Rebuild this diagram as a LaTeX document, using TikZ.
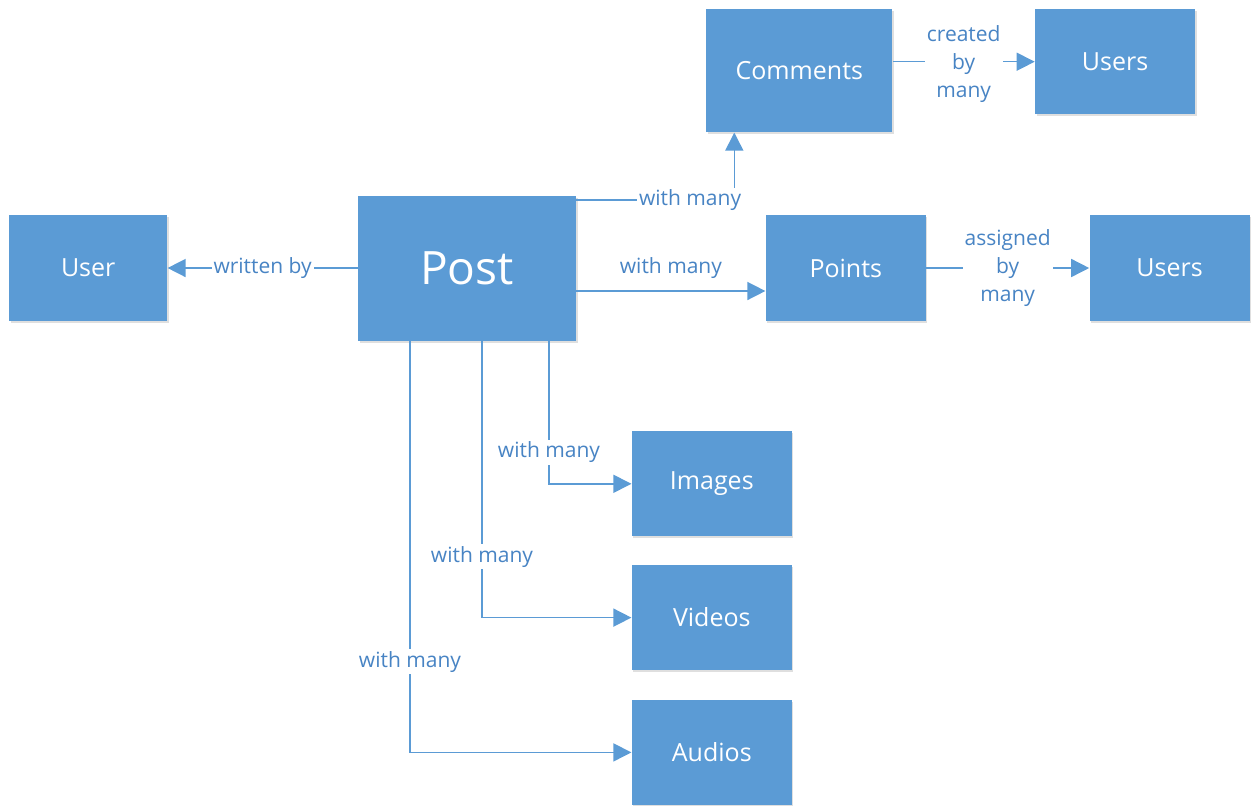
\documentclass[tikz,border=0pt]{standalone}
\usepackage{fontspec}
\setmainfont{Open Sans}
\usetikzlibrary{
  arrows.meta,
  positioning,
  shadows
}
\definecolor{boxBlue}{RGB}{91,155,213}
\definecolor{labelBlue}{RGB}{72,132,196}
\tikzset{
  entity/.style={
    rectangle,
    fill=boxBlue,
    text=white,
    inner sep = 0pt,
    minimum width = 80pt,
    minimum height = 53pt,
    font=\fontsize{12.5}{15}\selectfont,
    drop shadow={shadow xshift=0.8pt, shadow yshift=-1pt, opacity=0.25}
  },
  link/.style={->, draw=boxBlue, line width=0.75pt},
  rel/.style={
    fill=white,
    text=labelBlue,
    inner sep = 1pt,
    align=center,
    font=\fontsize{10.5}{14}\selectfont
  }
}

\begin{document}
\begin{tikzpicture}[>={Triangle[length=9pt,width=9pt]}]
    \useasboundingbox (0,0) rectangle (627pt,-402.5pt);

    \node[entity, minimum width=109pt, minimum height=72.5pt,
          font=\fontsize{23}{27}\selectfont] (post) at (233.5pt,-134pt) {Post};
    \node[entity, minimum width=79pt, left=95pt of post] (user) {User};
    \node[entity, right=94.5pt of post] (points) {Points};
    \node[entity, right=81.5pt of points] (pointUsers) {Users};
    \node[entity, minimum width=93pt, minimum height=61.5pt,
          above=41pt of points, xshift=-23.25pt] (comments) {Comments};
    \node[entity, minimum height=52.5pt, right=71pt of comments,
          yshift=4.5pt] (commentUsers) {Users};
    \node[entity, minimum height=52.5pt,
          below right=45pt and 27.5pt of post.south east] (images) {Images};
    \node[entity, minimum height=52.5pt, below=14pt of images] (videos) {Videos};
    \node[entity, minimum height=52.5pt, below=14.5pt of videos] (audios) {Audios};

    \draw[link] (post) -- node[rel] {written by} (user);
    \draw[link] ([yshift=34pt]post.east) -| node[rel, pos=0.36] {with many}
        ([xshift=-32.5pt]comments.south);
    \draw[link] ([yshift=-11.5pt]post.east) -- node[rel, midway, yshift=11.5pt] {with many}
        ([yshift=-11.5pt]points.west);
    \draw[link] (comments.east |- commentUsers) -- node[rel, yshift=-1pt] {created\\by\\many} (commentUsers);
    \draw[link] (points) -- node[rel] {assigned\\by\\many} (pointUsers);
    \draw[link] ([xshift=41pt]post.south) |- node[rel, pos=0.39] {with many} (images);
    \draw[link] ([xshift=7.5pt]post.south) |- node[rel, pos=0.39] {with many} (videos);
    \draw[link] ([xshift=-28.5pt]post.south) |- node[rel, pos=0.39] {with many} (audios);
\end{tikzpicture}
\end{document}
